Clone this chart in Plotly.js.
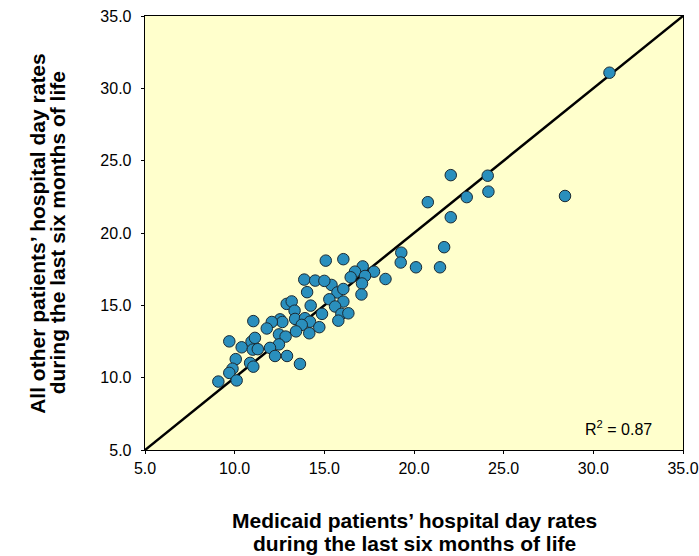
<!DOCTYPE html>
<html>
<head>
<meta charset="utf-8">
<script src="https://cdn.plot.ly/plotly-3.0.1.min.js"></script>
<style>html,body{margin:0;padding:0;background:#fff}#chart{width:699px;height:556px}</style>
</head>
<body>
<div id="chart"></div>
<script>
const medicaidRates = [30.90,28.42,24.11,24.15,22.05,22.94,20.77,22.05,21.68,21.45,20.11,19.29,19.26,18.41,17.77,17.14,16.71,17.27,16.47,17.10,17.07,15.40,15.73,16.06,16.06,15.28,15.60,15.95,16.34,15.78,15.08,16.06,13.88,14.49,15.00,14.04,12.90,13.18,14.24,13.34,14.87,13.37,13.92,14.20,12.53,12.66,12.07,11.79,13.74,13.42,14.16,14.72,12.47,12.84,12.47,11.97,12.25,12.92,13.64,11.04,9.70,10.39,10.94,11.13,11.01,11.29,10.86,11.04,10.06,9.88,9.70,10.11,9.09];
const otherRates = [31.08,22.56,23.96,22.86,24.00,22.48,22.13,21.09,19.02,17.63,17.63,18.64,17.96,16.82,17.33,17.69,17.33,17.03,16.94,16.51,15.75,16.41,15.89,16.13,15.26,15.42,14.92,14.41,14.45,13.94,18.09,18.19,16.78,16.71,16.69,15.91,15.10,15.27,14.98,14.63,14.41,14.06,14.11,13.87,14.03,13.85,13.85,13.40,13.65,13.20,13.07,13.49,12.99,12.84,12.30,12.06,11.50,11.50,10.95,13.91,12.51,12.10,12.49,12.75,11.94,11.97,11.02,10.76,11.28,10.62,10.33,9.81,9.73];
const identityX = [5, 35];
const identityY = [5, 35];
const tickVals = [5, 10, 15, 20, 25, 30, 35];
const tickText = ["5.0", "10.0", "15.0", "20.0", "25.0", "30.0", "35.0"];
const xTitleLines = ["Medicaid patients\u2019 hospital day rates", "during the last six months of life"];
const yTitleLines = ["All other patients\u2019 hospital day rates", "during the last six months of life"];
const rSquaredLabel = "R<sup>2</sup> = 0.87";

const font = "Arial, 'Liberation Sans', sans-serif";

const traces = [
  {
    x: identityX, y: identityY, type: 'scatter', mode: 'lines',
    line: {color: '#000000', width: 2.5}, hoverinfo: 'skip', showlegend: false
  },
  {
    x: medicaidRates, y: otherRates, type: 'scatter', mode: 'markers',
    marker: {size: 11.5, color: '#2a8fbd', line: {color: '#1a2a33', width: 1}},
    showlegend: false
  }
];

const axisCommon = {
  range: [5, 35], tickvals: tickVals, ticktext: tickText,
  showgrid: false, zeroline: false, showline: true, mirror: true,
  linecolor: '#000000', linewidth: 1.3, ticks: 'outside', ticklen: 3, tickcolor: '#000',
  tickfont: {family: font, size: 16, color: '#000'}
};

const titleFont = {family: font, size: 21, color: '#000'};

const annotations = [
  {x: 0.5, y: -0.163, xref: 'paper', yref: 'paper', xanchor: 'center', yanchor: 'middle',
   text: '<b>' + xTitleLines[0] + '</b>', showarrow: false, font: titleFont},
  {x: 0.5, y: -0.215, xref: 'paper', yref: 'paper', xanchor: 'center', yanchor: 'middle',
   text: '<b>' + xTitleLines[1] + '</b>', showarrow: false, font: titleFont},
  {x: -0.201, y: 0.5, xref: 'paper', yref: 'paper', xanchor: 'center', yanchor: 'middle', textangle: -90,
   text: '<b>' + yTitleLines[0] + '</b>', showarrow: false, font: titleFont},
  {x: -0.163, y: 0.5, xref: 'paper', yref: 'paper', xanchor: 'center', yanchor: 'middle', textangle: -90,
   text: '<b>' + yTitleLines[1] + '</b>', showarrow: false, font: titleFont},
  {x: 33.4, y: 6.5, xref: 'x', yref: 'y', xanchor: 'right', yanchor: 'middle',
   text: rSquaredLabel, showarrow: false, font: {family: font, size: 16, color: '#000'}}
];

const layout = {
  width: 699, height: 556,
  margin: {l: 145, r: 16, t: 16, b: 106},
  paper_bgcolor: '#ffffff', plot_bgcolor: '#ffffcc',
  showlegend: false,
  xaxis: Object.assign({}, axisCommon),
  yaxis: Object.assign({}, axisCommon, {ticklabelstandoff: 6}),
  annotations: annotations
};

Plotly.newPlot('chart', traces, layout, {displayModeBar: false, staticPlot: true});
</script>
</body>
</html>
